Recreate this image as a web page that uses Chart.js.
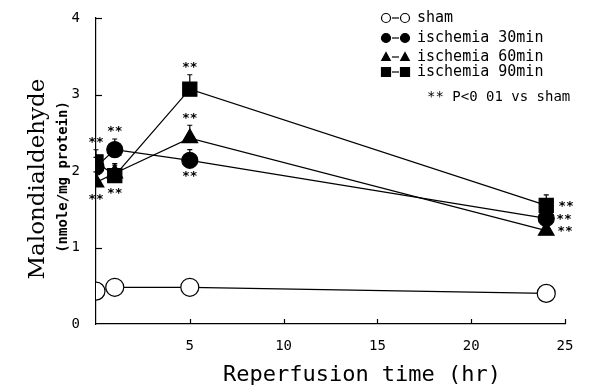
<!DOCTYPE html>
<html><head><meta charset="utf-8">
<script src="https://cdn.jsdelivr.net/npm/chart.js@4"></script>
<style>html,body{margin:0;padding:0;background:#fff}#wrap{width:613px;height:391px;position:relative}</style>
</head><body><div id="wrap"><canvas id="c" width="613" height="391"></canvas></div>
<script>
// ---- data ----
const times = [0, 1, 5, 24];
const sham = [0.43, 0.48, 0.48, 0.40];
const isch30 = [2.05, 2.28, 2.14, 1.38];
const isch60 = [1.85, 1.97, 2.43, 1.22];
const isch90 = [2.12, 1.94, 3.07, 1.55];
const errSham = [0, 0, 0, 0];
const err30 = [0.05, 0.06, 0.06, 0.03];
const err60 = [0.05, 0.04, 0.08, 0.03];
const err90 = [0.06, 0.04, 0.09, 0.04];
const starsSham = ['', '', '', ''];
const stars30 = ['', 'above', 'below', 'right'];
const stars60 = ['below', 'above', 'above', 'right'];
const stars90 = ['above', 'below', 'above', 'right'];
const xTicks = [5, 10, 15, 20, 25];
const yTicks = [0, 1, 2, 3, 4];
const seriesLabels = ['sham', 'ischemia 30min', 'ischemia 60min', 'ischemia 90min'];
const noteText = '** P<0 01 vs sham';
const starText = '**';
const xTitle = 'Reperfusion time (hr)';
const yTitle = 'Malondialdehyde';
const yUnit = '(nmole/mg protein)';

const MONO = '"DejaVu Sans Mono", monospace';
const SERIF = '"DejaVu Serif", serif';

function pts(ys) { return times.map((t, i) => ({ x: t, y: ys[i] })); }

const styles = [
  { style: 'circle', fill: '#fff', radius: 9 },
  { style: 'circle', fill: '#000', radius: 8 },
  { style: 'triangle', fill: '#000', radius: 9 },
  { style: 'rect', fill: '#000', radius: 10 }
];
const allVals = [sham, isch30, isch60, isch90];
const allErr = [errSham, err30, err60, err90];
const allStars = [starsSham, stars30, stars60, stars90];

const datasets = allVals.map((v, i) => ({
  label: seriesLabels[i],
  data: pts(v),
  showLine: true,
  borderColor: '#000',
  borderWidth: 1.2,
  backgroundColor: styles[i].fill,
  pointStyle: styles[i].style,
  pointRadius: styles[i].radius,
  pointBorderColor: '#000',
  pointBorderWidth: 1.2,
  pointBackgroundColor: styles[i].fill,
  pointHoverRadius: styles[i].radius,
  tension: 0,
  fill: false
}));

function marker(ctx, style, fill, x, y, r) {
  ctx.save();
  ctx.fillStyle = fill; ctx.strokeStyle = '#000'; ctx.lineWidth = 1.2;
  ctx.beginPath();
  if (style === 'circle') ctx.arc(x, y, r, 0, Math.PI * 2);
  else if (style === 'triangle') { ctx.moveTo(x, y - r); ctx.lineTo(x + r * 0.95, y + r * 0.75); ctx.lineTo(x - r * 0.95, y + r * 0.75); ctx.closePath(); }
  else ctx.rect(x - r, y - r, 2 * r, 2 * r);
  ctx.fill(); ctx.stroke();
  ctx.restore();
}

function barTop(ys, s, i) {
  return ys.getPixelForValue(allVals[s][i] + allErr[s][i]) - styles[s].radius * 0.75;
}

const decor = {
  id: 'decor',
  beforeDatasetsDraw(chart) {
    const ctx = chart.ctx, xs = chart.scales.x, ys = chart.scales.y;
    ctx.save();
    ctx.strokeStyle = '#000'; ctx.lineWidth = 1.2;
    allVals.forEach((vals, s) => {
      vals.forEach((v, i) => {
        if (!allErr[s][i]) return;
        const px = xs.getPixelForValue(times[i]);
        const y0 = ys.getPixelForValue(v);
        const y1 = barTop(ys, s, i);
        ctx.beginPath(); ctx.moveTo(px, y0); ctx.lineTo(px, y1);
        ctx.moveTo(px - 2.5, y1); ctx.lineTo(px + 2.5, y1); ctx.stroke();
      });
    });
    ctx.restore();
  },
  afterDraw(chart) {
    const ctx = chart.ctx, xs = chart.scales.x, ys = chart.scales.y, ca = chart.chartArea;
    ctx.save();
    ctx.strokeStyle = '#000'; ctx.fillStyle = '#000'; ctx.lineWidth = 1.2;
    // inward ticks
    yTicks.forEach(v => { if (v === 0) return; const py = Math.round(ys.getPixelForValue(v)) + 0.5; ctx.beginPath(); ctx.moveTo(ca.left, py); ctx.lineTo(ca.left + 6, py); ctx.stroke(); });
    xTicks.forEach(v => { const px = Math.round(xs.getPixelForValue(v)) + 0.5; ctx.beginPath(); ctx.moveTo(px, ca.bottom); ctx.lineTo(px, ca.bottom - 5); ctx.stroke(); });
    // stars
    ctx.font = 'bold 13px ' + MONO;
    ctx.textAlign = 'center'; ctx.textBaseline = 'middle';
    allStars.forEach((arr, s) => {
      arr.forEach((pos, i) => {
        if (!pos) return;
        const px = xs.getPixelForValue(times[i]);
        const py = ys.getPixelForValue(allVals[s][i]);
        const r = styles[s].radius;
        if (pos === 'above') ctx.fillText(starText, px, barTop(ys, s, i) - 7);
        else if (pos === 'below') ctx.fillText(starText, px, py + r + 8);
        else { ctx.textAlign = 'left'; ctx.fillText(starText, px + r + 2, py + 1); ctx.textAlign = 'center'; }
      });
    });
    // legend
    const rows = [18, 38, 57, 72];
    ctx.font = '15px ' + MONO;
    ctx.textAlign = 'left';
    seriesLabels.forEach((lab, i) => {
      const y = rows[i];
      const st = styles[i];
      marker(ctx, st.style, st.fill, 386, y, 4.5);
      marker(ctx, st.style, st.fill, 405, y, 4.5);
      ctx.beginPath(); ctx.moveTo(392, y); ctx.lineTo(399, y); ctx.stroke();
      ctx.fillText(lab, 417, y);
    });
    ctx.font = '14px ' + MONO;
    ctx.fillText(noteText, 427, 97);
    // axis titles
    ctx.textAlign = 'center';
    ctx.font = '22px ' + MONO;
    ctx.fillText(xTitle, 362, 375);
    ctx.save();
    ctx.translate(38, 179); ctx.rotate(-Math.PI / 2);
    ctx.font = '23px ' + SERIF;
    ctx.fillText(yTitle, 0, 0);
    ctx.restore();
    ctx.save();
    ctx.translate(63, 177); ctx.rotate(-Math.PI / 2);
    ctx.font = 'bold 14px ' + MONO;
    ctx.fillText(yUnit, 0, 0);
    ctx.restore();
    ctx.restore();
  }
};

new Chart(document.getElementById('c'), {
  type: 'scatter',
  data: { datasets: datasets },
  options: {
    responsive: false,
    animation: false,
    events: [],
    layout: { padding: { top: 18, right: 48, left: 0, bottom: 0 } },
    plugins: { legend: { display: false }, tooltip: { enabled: false } },
    scales: {
      x: {
        type: 'linear', min: 0, max: 25,
        afterBuildTicks: s => { s.ticks = [0].concat(xTicks).map(v => ({ value: v })); },
        afterFit: s => { s.height = 67; },
        grid: { display: false },
        border: { display: true, color: '#000', width: 1.2 },
        ticks: { color: '#000', font: { family: MONO, size: 14 }, padding: 6, maxRotation: 0,
          callback: v => (v === 0 ? '' : String(v)) }
      },
      y: {
        type: 'linear', min: 0, max: 4,
        afterBuildTicks: s => { s.ticks = yTicks.map(v => ({ value: v })); },
        afterFit: s => { s.width = 96; },
        grid: { display: false },
        border: { display: true, color: '#000', width: 1.2 },
        ticks: { color: '#000', font: { family: MONO, size: 14 }, padding: 8 }
      }
    }
  },
  plugins: [decor]
});
</script></body></html>
